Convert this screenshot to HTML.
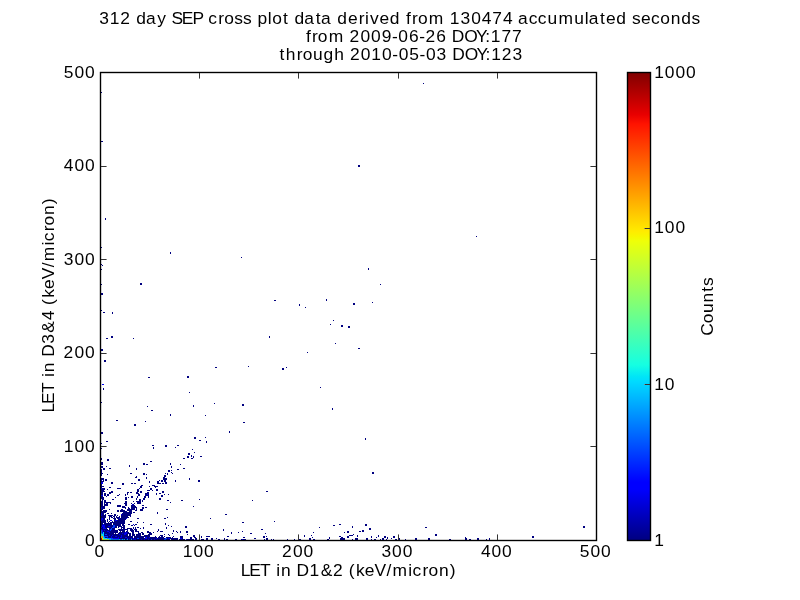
<!DOCTYPE html><html><head><meta charset="utf-8"><style>
html,body{margin:0;padding:0;background:#fff;}
svg{display:block;}
.tx{will-change:transform;}
text{font-family:"Liberation Sans",sans-serif;fill:#000;}
</style></head><body>
<svg width="800" height="600" viewBox="0 0 800 600">
<defs><linearGradient id="jet" x1="0" y1="1" x2="0" y2="0">
<stop offset="0" stop-color="#000080"/><stop offset="0.11" stop-color="#0000ff"/><stop offset="0.125" stop-color="#0000ff"/>
<stop offset="0.34" stop-color="#00dbff"/><stop offset="0.35" stop-color="#00e5f7"/><stop offset="0.375" stop-color="#15ffe2"/>
<stop offset="0.64" stop-color="#efff08"/><stop offset="0.65" stop-color="#f7f600"/><stop offset="0.66" stop-color="#ffec00"/>
<stop offset="0.89" stop-color="#ff1300"/><stop offset="0.91" stop-color="#e80000"/><stop offset="1" stop-color="#800000"/>
</linearGradient></defs>

<g class="tx">
<text x="99.22 109.73 120.20 130.80 136.22 146.10 157.26 166.77 171.43 181.85 192.48 203.26 208.37 218.35 224.25 234.29 242.98 251.79 257.42 267.82 272.35 283.09 289.05 294.48 304.35 315.73 321.11 331.92 337.34 347.90 358.69 365.08 369.91 379.52 389.81 400.27 406.07 412.07 417.96 428.83 444.37 449.82 460.54 471.13 481.74 492.32 502.96 513.33 518.05 528.66 537.83 547.38 558.46 574.19 584.73 588.63 600.01 606.07 616.36 626.82 632.00 640.90 650.88 660.28 670.70 681.14 691.48" y="24" font-size="17.4">312 day SEP cross plot data derived from 130474 accumulated seconds</text>
<text x="305.96 311.96 317.86 328.74 344.29 349.62 360.46 371.08 381.64 391.96 398.34 408.96 419.22 425.38 436.23 446.61 451.86 464.35 476.09 485.13 490.74 501.41 512.03" y="42" font-size="17.4">from 2009-06-26 DOY:177</text>
<text x="279.57 285.78 296.76 302.66 313.02 323.55 334.26 344.61 349.94 360.78 371.32 382.03 392.30 398.69 409.25 419.58 425.96 436.61 446.98 452.23 464.73 476.48 485.52 491.13 501.63 512.49" y="60" font-size="17.4">through 2010-05-03 DOY:123</text>
<text x="240.63 249.19 260.11 270.75 276.21 280.95 291.28 296.53 309.59 320.64 333.10 343.70 348.70 355.92 364.67 374.51 386.42 392.59 408.31 412.60 422.59 428.50 438.93 449.82" y="576" font-size="17.4">LET in D1&amp;2 (keV/micron)</text>
<text transform="translate(53.9,0) rotate(-90)" x="-412.48 -403.97 -393.10 -382.50 -377.06 -372.35 -362.07 -356.86 -343.74 -332.86 -320.23 -309.89 -304.92 -297.74 -289.03 -279.24 -267.37 -261.25 -245.59 -241.33 -231.37 -225.50 -215.12 -204.28" y="0" font-size="17.4">LET in D3&amp;4 (keV/micron)</text>
<text transform="translate(713.3,0) rotate(-90)" x="-335.63 -323.28 -313.04 -302.50 -291.70 -285.94" y="0" font-size="17.4">Counts</text>
<text x="94.56" y="557" font-size="17.4">0</text>
<text x="182.73 193.40 203.97" y="557" font-size="17.4">100</text>
<text x="282.10 292.90 303.48" y="557" font-size="17.4">200</text>
<text x="381.52 392.08 402.65" y="557" font-size="17.4">300</text>
<text x="480.92 491.50 502.08" y="557" font-size="17.4">400</text>
<text x="579.83 590.47 601.05" y="557" font-size="17.4">500</text>
<text x="84.96" y="546" font-size="17.4">0</text>
<text x="63.72 74.38 84.96" y="452" font-size="17.4">100</text>
<text x="63.59 74.38 84.96" y="358" font-size="17.4">200</text>
<text x="63.83 74.38 84.96" y="265" font-size="17.4">300</text>
<text x="63.81 74.38 84.96" y="171" font-size="17.4">400</text>
<text x="63.74 74.38 84.96" y="78" font-size="17.4">500</text>
<text x="654.14" y="546" font-size="17.4">1</text>
<text x="654.14 664.81" y="390" font-size="17.4">10</text>
<text x="654.14 664.81 675.38" y="233" font-size="17.4">100</text>
<text x="654.14 664.81 675.38 685.96" y="78" font-size="17.4">1000</text>
</g>
<g shape-rendering="crispEdges">
<path fill="#000080" d="M423 83h1v1h-1zM101 92h1v1h-1zM101 141h2v1h-2zM358 165h2v1h-2zM358 166h2v1h-2zM105 218h1v1h-1zM105 219h1v1h-1zM476 236h1v1h-1zM101 247h1v1h-1zM170 252h1v1h-1zM170 253h1v1h-1zM241 257h1v1h-1zM101 264h1v1h-1zM102 265h1v1h-1zM368 268h1v1h-1zM101 269h1v1h-1zM368 269h1v1h-1zM140 283h2v1h-2zM101 284h1v1h-1zM140 284h2v1h-2zM380 284h1v1h-1zM101 293h2v1h-2zM101 294h2v1h-2zM326 299h1v1h-1zM274 300h2v1h-2zM326 300h1v1h-1zM372 302h1v1h-1zM353 303h2v1h-2zM299 304h1v1h-1zM353 304h2v1h-2zM299 305h1v1h-1zM305 307h1v1h-1zM101 310h1v1h-1zM103 312h2v1h-2zM112 312h1v1h-1zM112 313h1v1h-1zM333 320h1v1h-1zM330 324h1v1h-1zM341 325h2v1h-2zM341 326h2v1h-2zM348 326h2v1h-2zM348 327h2v1h-2zM111 336h2v1h-2zM269 336h1v1h-1zM111 337h2v1h-2zM269 337h1v1h-1zM106 338h2v1h-2zM133 338h1v1h-1zM335 343h1v1h-1zM358 348h2v1h-2zM101 349h2v1h-2zM101 350h2v1h-2zM307 352h1v1h-1zM104 360h2v1h-2zM104 361h2v1h-2zM248 366h1v1h-1zM215 367h2v1h-2zM286 367h1v1h-1zM282 368h2v1h-2zM282 369h2v1h-2zM187 376h2v1h-2zM148 377h2v1h-2zM187 377h2v1h-2zM320 387h1v1h-1zM103 388h1v1h-1zM103 389h1v1h-1zM189 392h1v1h-1zM101 402h1v1h-1zM214 403h1v1h-1zM242 404h2v1h-2zM193 405h1v1h-1zM242 405h2v1h-2zM147 406h1v1h-1zM193 406h1v1h-1zM332 408h1v1h-1zM332 409h1v1h-1zM151 410h2v1h-2zM170 414h1v1h-1zM170 415h1v1h-1zM205 415h1v1h-1zM116 420h2v1h-2zM145 421h1v1h-1zM243 422h2v1h-2zM134 424h2v1h-2zM134 425h2v1h-2zM229 431h1v1h-1zM101 432h2v1h-2zM229 432h1v1h-1zM101 433h2v1h-2zM194 437h2v1h-2zM205 437h1v1h-1zM194 438h2v1h-2zM365 438h1v1h-1zM365 439h1v1h-1zM199 440h2v1h-2zM106 441h2v1h-2zM206 441h1v1h-1zM206 442h1v1h-1zM101 443h1v1h-1zM152 445h2v1h-2zM165 445h2v1h-2zM177 445h2v1h-2zM165 446h2v1h-2zM153 447h1v1h-1zM175 447h1v1h-1zM101 448h1v1h-1zM153 448h1v1h-1zM192 449h1v1h-1zM194 452h1v1h-1zM188 453h2v1h-2zM188 454h2v1h-2zM191 455h1v1h-1zM187 456h2v1h-2zM191 456h1v1h-1zM193 456h1v1h-1zM200 456h2v1h-2zM187 457h2v1h-2zM193 457h1v1h-1zM101 458h1v1h-1zM183 458h2v1h-2zM191 458h2v1h-2zM101 459h1v1h-1zM107 459h2v1h-2zM107 460h2v1h-2zM150 461h2v1h-2zM101 462h2v1h-2zM101 463h2v1h-2zM143 463h2v1h-2zM170 463h1v1h-1zM101 464h2v1h-2zM143 464h2v1h-2zM146 464h2v1h-2zM170 464h1v1h-1zM180 464h1v1h-1zM129 465h1v1h-1zM101 466h2v1h-2zM106 466h1v1h-1zM129 466h1v1h-1zM171 466h1v1h-1zM101 467h2v1h-2zM171 467h1v1h-1zM103 468h2v1h-2zM109 468h2v1h-2zM136 468h1v1h-1zM183 468h2v1h-2zM101 469h1v1h-1zM103 469h2v1h-2zM136 469h1v1h-1zM177 469h2v1h-2zM101 470h1v1h-1zM168 470h2v1h-2zM171 470h1v1h-1zM101 471h1v1h-1zM168 471h2v1h-2zM101 472h1v1h-1zM171 472h1v1h-1zM372 472h2v1h-2zM101 473h2v1h-2zM130 473h2v1h-2zM143 473h2v1h-2zM165 473h1v1h-1zM167 473h1v1h-1zM172 473h1v1h-1zM372 473h2v1h-2zM101 474h1v1h-1zM107 474h1v1h-1zM143 474h2v1h-2zM146 474h1v1h-1zM167 474h1v1h-1zM101 475h1v1h-1zM164 475h2v1h-2zM136 476h1v1h-1zM164 476h2v1h-2zM135 477h2v1h-2zM146 477h1v1h-1zM163 477h2v1h-2zM101 478h3v1h-3zM146 478h1v1h-1zM163 478h4v1h-4zM189 478h1v1h-1zM101 479h3v1h-3zM105 479h2v1h-2zM138 479h2v1h-2zM163 479h4v1h-4zM189 479h1v1h-1zM103 480h1v1h-1zM105 480h2v1h-2zM138 480h2v1h-2zM159 480h1v1h-1zM161 480h2v1h-2zM164 480h2v1h-2zM175 480h1v1h-1zM198 480h2v1h-2zM101 481h3v1h-3zM149 481h1v1h-1zM157 481h2v1h-2zM161 481h2v1h-2zM164 481h2v1h-2zM175 481h1v1h-1zM198 481h2v1h-2zM111 482h2v1h-2zM149 482h1v1h-1zM157 482h2v1h-2zM165 482h2v1h-2zM111 483h2v1h-2zM122 483h2v1h-2zM131 483h2v1h-2zM134 483h2v1h-2zM157 483h4v1h-4zM162 483h2v1h-2zM165 483h2v1h-2zM101 484h1v1h-1zM122 484h2v1h-2zM101 485h1v1h-1zM141 485h2v1h-2zM152 485h3v1h-3zM101 486h3v1h-3zM140 486h2v1h-2zM149 486h1v1h-1zM154 486h4v1h-4zM101 487h1v1h-1zM109 487h2v1h-2zM140 487h2v1h-2zM155 487h1v1h-1zM102 488h3v1h-3zM117 488h4v1h-4zM139 488h1v1h-1zM150 488h2v1h-2zM101 489h4v1h-4zM107 489h1v1h-1zM137 489h2v1h-2zM150 489h2v1h-2zM156 489h2v1h-2zM101 490h3v1h-3zM137 490h2v1h-2zM147 490h3v1h-3zM152 490h1v1h-1zM156 490h2v1h-2zM101 491h4v1h-4zM111 491h2v1h-2zM137 491h2v1h-2zM140 491h2v1h-2zM162 491h2v1h-2zM266 491h2v1h-2zM101 492h2v1h-2zM109 492h4v1h-4zM127 492h2v1h-2zM130 492h2v1h-2zM136 492h2v1h-2zM140 492h2v1h-2zM147 492h2v1h-2zM162 492h2v1h-2zM101 493h2v1h-2zM104 493h2v1h-2zM109 493h2v1h-2zM127 493h1v1h-1zM136 493h3v1h-3zM145 493h4v1h-4zM156 493h1v1h-1zM159 493h2v1h-2zM101 494h2v1h-2zM104 494h2v1h-2zM107 494h2v1h-2zM119 494h1v1h-1zM125 494h1v1h-1zM127 494h1v1h-1zM138 494h2v1h-2zM145 494h2v1h-2zM148 494h1v1h-1zM156 494h1v1h-1zM164 494h1v1h-1zM168 494h1v1h-1zM104 495h2v1h-2zM107 495h2v1h-2zM117 495h2v1h-2zM125 495h1v1h-1zM138 495h2v1h-2zM145 495h4v1h-4zM161 495h2v1h-2zM101 496h2v1h-2zM106 496h1v1h-1zM131 496h2v1h-2zM137 496h1v1h-1zM144 496h2v1h-2zM148 496h1v1h-1zM161 496h2v1h-2zM101 497h3v1h-3zM115 497h1v1h-1zM125 497h2v1h-2zM128 497h1v1h-1zM131 497h2v1h-2zM137 497h1v1h-1zM144 497h2v1h-2zM148 497h1v1h-1zM101 498h3v1h-3zM125 498h2v1h-2zM136 498h1v1h-1zM143 498h2v1h-2zM159 498h2v1h-2zM102 499h2v1h-2zM112 499h2v1h-2zM125 499h2v1h-2zM136 499h1v1h-1zM139 499h2v1h-2zM143 499h2v1h-2zM159 499h2v1h-2zM199 499h1v1h-1zM102 500h1v1h-1zM104 500h2v1h-2zM139 500h2v1h-2zM142 500h1v1h-1zM167 500h2v1h-2zM181 500h2v1h-2zM252 500h1v1h-1zM101 501h2v1h-2zM104 501h2v1h-2zM125 501h2v1h-2zM133 501h1v1h-1zM136 501h5v1h-5zM142 501h1v1h-1zM101 502h2v1h-2zM104 502h7v1h-7zM125 502h2v1h-2zM137 502h4v1h-4zM170 502h1v1h-1zM101 503h2v1h-2zM104 503h1v1h-1zM106 503h2v1h-2zM110 503h1v1h-1zM124 503h3v1h-3zM131 503h1v1h-1zM134 503h1v1h-1zM137 503h4v1h-4zM101 504h2v1h-2zM104 504h4v1h-4zM125 504h2v1h-2zM133 504h1v1h-1zM101 505h2v1h-2zM104 505h4v1h-4zM117 505h4v1h-4zM125 505h2v1h-2zM131 505h4v1h-4zM142 505h2v1h-2zM101 506h4v1h-4zM117 506h4v1h-4zM122 506h3v1h-3zM131 506h5v1h-5zM193 506h1v1h-1zM102 507h3v1h-3zM122 507h4v1h-4zM128 507h1v1h-1zM131 507h6v1h-6zM142 507h2v1h-2zM145 507h2v1h-2zM102 508h3v1h-3zM125 508h1v1h-1zM128 508h2v1h-2zM131 508h4v1h-4zM136 508h1v1h-1zM142 508h2v1h-2zM101 509h2v1h-2zM109 509h1v1h-1zM121 509h2v1h-2zM127 509h8v1h-8zM136 509h1v1h-1zM140 509h3v1h-3zM166 509h2v1h-2zM101 510h1v1h-1zM103 510h4v1h-4zM117 510h2v1h-2zM120 510h5v1h-5zM127 510h5v1h-5zM135 510h2v1h-2zM140 510h3v1h-3zM101 511h6v1h-6zM117 511h2v1h-2zM120 511h7v1h-7zM129 511h3v1h-3zM101 512h5v1h-5zM123 512h9v1h-9zM133 512h2v1h-2zM157 512h1v1h-1zM102 513h2v1h-2zM107 513h2v1h-2zM111 513h1v1h-1zM122 513h10v1h-10zM157 513h1v1h-1zM102 514h2v1h-2zM105 514h1v1h-1zM114 514h2v1h-2zM122 514h9v1h-9zM225 514h2v1h-2zM102 515h4v1h-4zM108 515h5v1h-5zM114 515h2v1h-2zM117 515h1v1h-1zM121 515h10v1h-10zM101 516h5v1h-5zM109 516h3v1h-3zM113 516h2v1h-2zM116 516h1v1h-1zM119 516h1v1h-1zM121 516h7v1h-7zM130 516h1v1h-1zM101 517h5v1h-5zM109 517h1v1h-1zM111 517h2v1h-2zM114 517h1v1h-1zM116 517h4v1h-4zM121 517h8v1h-8zM167 517h1v1h-1zM103 518h2v1h-2zM109 518h1v1h-1zM113 518h3v1h-3zM117 518h2v1h-2zM120 518h6v1h-6zM137 518h2v1h-2zM164 518h2v1h-2zM210 518h1v1h-1zM103 519h2v1h-2zM107 519h1v1h-1zM109 519h1v1h-1zM114 519h2v1h-2zM118 519h8v1h-8zM102 520h4v1h-4zM107 520h1v1h-1zM114 520h1v1h-1zM117 520h8v1h-8zM101 521h5v1h-5zM107 521h1v1h-1zM109 521h1v1h-1zM112 521h1v1h-1zM114 521h11v1h-11zM130 521h2v1h-2zM274 521h1v1h-1zM101 522h5v1h-5zM108 522h1v1h-1zM110 522h15v1h-15zM137 522h1v1h-1zM143 522h1v1h-1zM242 522h2v1h-2zM101 523h2v1h-2zM104 523h8v1h-8zM113 523h12v1h-12zM165 523h1v1h-1zM101 524h2v1h-2zM104 524h8v1h-8zM113 524h8v1h-8zM122 524h2v1h-2zM128 524h2v1h-2zM135 524h2v1h-2zM150 524h2v1h-2zM165 524h1v1h-1zM339 524h2v1h-2zM365 524h2v1h-2zM101 525h1v1h-1zM105 525h8v1h-8zM115 525h6v1h-6zM122 525h3v1h-3zM131 525h2v1h-2zM134 525h1v1h-1zM168 525h1v1h-1zM333 525h2v1h-2zM365 525h2v1h-2zM101 526h1v1h-1zM105 526h3v1h-3zM110 526h3v1h-3zM115 526h2v1h-2zM118 526h4v1h-4zM123 526h2v1h-2zM171 526h1v1h-1zM185 526h2v1h-2zM352 526h1v1h-1zM583 526h2v1h-2zM102 527h1v1h-1zM105 527h7v1h-7zM115 527h2v1h-2zM118 527h1v1h-1zM121 527h4v1h-4zM133 527h1v1h-1zM135 527h1v1h-1zM137 527h2v1h-2zM143 527h1v1h-1zM166 527h1v1h-1zM185 527h2v1h-2zM319 527h1v1h-1zM352 527h1v1h-1zM425 527h2v1h-2zM583 527h2v1h-2zM101 528h2v1h-2zM106 528h1v1h-1zM109 528h2v1h-2zM112 528h3v1h-3zM121 528h1v1h-1zM123 528h2v1h-2zM127 528h5v1h-5zM133 528h1v1h-1zM135 528h1v1h-1zM140 528h1v1h-1zM143 528h1v1h-1zM166 528h1v1h-1zM369 528h2v1h-2zM102 529h6v1h-6zM109 529h1v1h-1zM112 529h3v1h-3zM118 529h10v1h-10zM130 529h3v1h-3zM134 529h3v1h-3zM158 529h1v1h-1zM223 529h1v1h-1zM261 529h2v1h-2zM369 529h2v1h-2zM103 530h1v1h-1zM105 530h5v1h-5zM111 530h7v1h-7zM119 530h6v1h-6zM127 530h1v1h-1zM130 530h4v1h-4zM135 530h2v1h-2zM158 530h1v1h-1zM173 530h1v1h-1zM223 530h1v1h-1zM362 530h2v1h-2zM103 531h4v1h-4zM109 531h9v1h-9zM120 531h1v1h-1zM122 531h3v1h-3zM126 531h2v1h-2zM131 531h3v1h-3zM135 531h4v1h-4zM147 531h2v1h-2zM157 531h1v1h-1zM160 531h3v1h-3zM173 531h1v1h-1zM176 531h1v1h-1zM180 531h1v1h-1zM186 531h2v1h-2zM242 531h1v1h-1zM347 531h2v1h-2zM359 531h2v1h-2zM362 531h2v1h-2zM104 532h5v1h-5zM110 532h8v1h-8zM119 532h6v1h-6zM127 532h2v1h-2zM132 532h2v1h-2zM138 532h1v1h-1zM141 532h2v1h-2zM147 532h4v1h-4zM153 532h1v1h-1zM177 532h1v1h-1zM180 532h1v1h-1zM186 532h2v1h-2zM231 532h1v1h-1zM238 532h1v1h-1zM313 532h1v1h-1zM344 532h1v1h-1zM347 532h2v1h-2zM104 533h10v1h-10zM115 533h1v1h-1zM118 533h4v1h-4zM123 533h1v1h-1zM127 533h4v1h-4zM132 533h2v1h-2zM138 533h3v1h-3zM142 533h2v1h-2zM149 533h3v1h-3zM172 533h1v1h-1zM231 533h1v1h-1zM250 533h2v1h-2zM265 533h1v1h-1zM104 534h1v1h-1zM107 534h12v1h-12zM120 534h4v1h-4zM126 534h2v1h-2zM129 534h2v1h-2zM132 534h3v1h-3zM136 534h5v1h-5zM142 534h2v1h-2zM148 534h4v1h-4zM164 534h1v1h-1zM168 534h1v1h-1zM187 534h1v1h-1zM353 534h1v1h-1zM435 534h2v1h-2zM104 535h5v1h-5zM110 535h2v1h-2zM113 535h8v1h-8zM122 535h6v1h-6zM129 535h2v1h-2zM132 535h3v1h-3zM136 535h5v1h-5zM144 535h6v1h-6zM160 535h3v1h-3zM169 535h1v1h-1zM193 535h2v1h-2zM304 535h1v1h-1zM311 535h1v1h-1zM349 535h4v1h-4zM357 535h1v1h-1zM378 535h1v1h-1zM435 535h2v1h-2zM108 536h3v1h-3zM112 536h3v1h-3zM117 536h4v1h-4zM122 536h11v1h-11zM134 536h16v1h-16zM155 536h1v1h-1zM159 536h1v1h-1zM161 536h2v1h-2zM164 536h1v1h-1zM173 536h1v1h-1zM180 536h3v1h-3zM193 536h2v1h-2zM201 536h1v1h-1zM206 536h4v1h-4zM227 536h2v1h-2zM263 536h2v1h-2zM266 536h1v1h-1zM304 536h1v1h-1zM339 536h2v1h-2zM347 536h2v1h-2zM357 536h1v1h-1zM371 536h1v1h-1zM378 536h1v1h-1zM384 536h2v1h-2zM393 536h2v1h-2zM532 536h2v1h-2zM105 537h2v1h-2zM108 537h3v1h-3zM112 537h6v1h-6zM119 537h1v1h-1zM122 537h3v1h-3zM127 537h6v1h-6zM134 537h10v1h-10zM147 537h2v1h-2zM150 537h7v1h-7zM158 537h6v1h-6zM166 537h5v1h-5zM172 537h1v1h-1zM180 537h3v1h-3zM190 537h2v1h-2zM194 537h2v1h-2zM201 537h1v1h-1zM243 537h2v1h-2zM263 537h2v1h-2zM312 537h1v1h-1zM329 537h1v1h-1zM341 537h2v1h-2zM347 537h2v1h-2zM371 537h1v1h-1zM376 537h1v1h-1zM384 537h2v1h-2zM387 537h1v1h-1zM393 537h2v1h-2zM465 537h1v1h-1zM532 537h2v1h-2zM119 538h8v1h-8zM128 538h3v1h-3zM132 538h1v1h-1zM134 538h3v1h-3zM139 538h6v1h-6zM147 538h9v1h-9zM157 538h8v1h-8zM167 538h1v1h-1zM170 538h8v1h-8zM182 538h1v1h-1zM190 538h2v1h-2zM195 538h2v1h-2zM206 538h2v1h-2zM211 538h2v1h-2zM216 538h1v1h-1zM224 538h1v1h-1zM254 538h2v1h-2zM266 538h2v1h-2zM309 538h2v1h-2zM329 538h1v1h-1zM340 538h5v1h-5zM355 538h3v1h-3zM366 538h2v1h-2zM382 538h2v1h-2zM387 538h1v1h-1zM391 538h1v1h-1zM398 538h2v1h-2zM415 538h2v1h-2zM428 538h2v1h-2zM465 538h2v1h-2zM477 538h2v1h-2zM489 538h1v1h-1zM125 539h1v1h-1zM128 539h1v1h-1zM130 539h1v1h-1zM132 539h1v1h-1zM136 539h5v1h-5zM142 539h2v1h-2zM145 539h3v1h-3zM149 539h2v1h-2zM152 539h2v1h-2zM155 539h9v1h-9zM166 539h4v1h-4zM171 539h7v1h-7zM179 539h6v1h-6zM187 539h7v1h-7zM195 539h2v1h-2zM201 539h3v1h-3zM206 539h2v1h-2zM211 539h2v1h-2zM218 539h2v1h-2zM224 539h1v1h-1zM226 539h2v1h-2zM235 539h2v1h-2zM241 539h1v1h-1zM243 539h3v1h-3zM264 539h1v1h-1zM266 539h2v1h-2zM271 539h1v1h-1zM273 539h1v1h-1zM287 539h1v1h-1zM294 539h1v1h-1zM299 539h2v1h-2zM309 539h2v1h-2zM313 539h2v1h-2zM327 539h2v1h-2zM340 539h5v1h-5zM352 539h1v1h-1zM355 539h3v1h-3zM366 539h2v1h-2zM371 539h1v1h-1zM374 539h2v1h-2zM380 539h1v1h-1zM382 539h2v1h-2zM386 539h1v1h-1zM395 539h2v1h-2zM398 539h2v1h-2zM405 539h1v1h-1zM415 539h2v1h-2zM428 539h2v1h-2zM449 539h2v1h-2zM465 539h2v1h-2zM469 539h2v1h-2zM477 539h2v1h-2zM486 539h1v1h-1zM489 539h1v1h-1z"/>
<path fill="#0000f0" d="M102 384h2v1h-2zM101 480h1v1h-1zM101 482h2v1h-2zM101 483h2v1h-2zM101 488h1v1h-1zM147 494h1v1h-1zM101 495h2v1h-2zM132 504h1v1h-1zM101 507h1v1h-1zM101 508h1v1h-1zM101 513h1v1h-1zM101 514h1v1h-1zM121 514h1v1h-1zM101 515h1v1h-1zM101 518h2v1h-2zM119 518h1v1h-1zM126 518h1v1h-1zM101 519h2v1h-2zM101 520h1v1h-1zM110 520h2v1h-2zM115 520h2v1h-2zM103 524h1v1h-1zM133 524h1v1h-1zM102 525h3v1h-3zM102 526h3v1h-3zM108 526h2v1h-2zM101 527h1v1h-1zM103 527h2v1h-2zM114 527h1v1h-1zM103 528h3v1h-3zM101 529h1v1h-1zM102 530h1v1h-1zM104 530h1v1h-1zM102 531h1v1h-1zM107 531h2v1h-2zM102 532h1v1h-1zM109 532h1v1h-1zM125 532h2v1h-2zM122 533h1v1h-1zM124 533h3v1h-3zM119 534h1v1h-1zM124 534h2v1h-2zM109 535h1v1h-1zM112 535h1v1h-1zM121 535h1v1h-1zM111 536h1v1h-1zM115 536h2v1h-2zM121 536h1v1h-1zM107 537h1v1h-1zM111 537h1v1h-1zM118 537h1v1h-1zM120 537h2v1h-2zM125 537h2v1h-2zM145 537h2v1h-2zM149 537h1v1h-1zM113 538h6v1h-6zM127 538h1v1h-1zM131 538h1v1h-1zM133 538h1v1h-1zM145 538h2v1h-2zM156 538h1v1h-1zM168 538h2v1h-2zM180 538h2v1h-2zM126 539h1v1h-1zM129 539h1v1h-1zM133 539h3v1h-3zM141 539h1v1h-1zM144 539h1v1h-1zM148 539h1v1h-1zM154 539h1v1h-1zM186 539h1v1h-1zM242 539h1v1h-1z"/>
<path fill="#0040ff" d="M113 525h2v1h-2zM113 526h2v1h-2zM112 527h2v1h-2zM111 528h1v1h-1zM110 529h2v1h-2zM101 530h1v1h-1zM110 530h1v1h-1zM102 533h1v1h-1zM105 534h2v1h-2zM104 536h4v1h-4zM111 538h2v1h-2zM137 538h2v1h-2zM165 538h2v1h-2zM120 539h2v1h-2zM123 539h1v1h-1zM151 539h1v1h-1zM164 539h2v1h-2z"/>
<path fill="#0080ff" d="M101 531h1v1h-1zM101 532h1v1h-1zM104 537h1v1h-1zM107 538h4v1h-4zM111 539h8v1h-8z"/>
<path fill="#00d4ff" d="M103 532h1v1h-1zM101 533h1v1h-1zM103 533h1v1h-1zM102 534h2v1h-2zM102 535h2v1h-2zM103 536h1v1h-1zM103 537h1v1h-1zM104 538h3v1h-3zM109 539h2v1h-2zM119 539h1v1h-1zM122 539h1v1h-1zM124 539h1v1h-1zM127 539h1v1h-1zM131 539h1v1h-1z"/>
<path fill="#40ffb8" d="M101 534h1v1h-1zM101 535h1v1h-1zM103 538h1v1h-1z"/>
<path fill="#b0ff48" d="M101 536h1v1h-1zM101 537h1v1h-1zM103 539h6v1h-6z"/>
<path fill="#ff9000" d="M102 536h1v1h-1zM102 537h1v1h-1z"/>
<path fill="#d00000" d="M101 538h1v1h-1zM101 539h1v1h-1z"/>
<path fill="#ffe000" d="M102 538h1v1h-1zM102 539h1v1h-1z"/>
</g>
<rect x="100.5" y="72.5" width="496.0" height="468.0" fill="none" stroke="#000" stroke-width="1.39"/>
<rect x="627.5" y="72.5" width="23" height="468" fill="url(#jet)" stroke="#000" stroke-width="1.39"/>
<path d="M199 73h1v5h-1zM199 535h1v5h-1zM298 73h1v5h-1zM298 535h1v5h-1zM398 73h1v5h-1zM398 535h1v5h-1zM497 73h1v5h-1zM497 535h1v5h-1zM101 446h5v1h-5zM591 446h5v1h-5zM101 353h5v1h-5zM591 353h5v1h-5zM101 259h5v1h-5zM591 259h5v1h-5zM101 166h5v1h-5zM591 166h5v1h-5zM645 384h5v1h-5zM645 228h5v1h-5z" fill="#333" shape-rendering="crispEdges"/>
<path d="M199 78h1v1h-1zM199 534h1v1h-1zM298 78h1v1h-1zM298 534h1v1h-1zM398 78h1v1h-1zM398 534h1v1h-1zM497 78h1v1h-1zM497 534h1v1h-1zM106 446h1v1h-1zM590 446h1v1h-1zM106 353h1v1h-1zM590 353h1v1h-1zM106 259h1v1h-1zM590 259h1v1h-1zM106 166h1v1h-1zM590 166h1v1h-1zM644 384h1v1h-1zM644 228h1v1h-1z" fill="#888" shape-rendering="crispEdges"/>
</svg></body></html>
